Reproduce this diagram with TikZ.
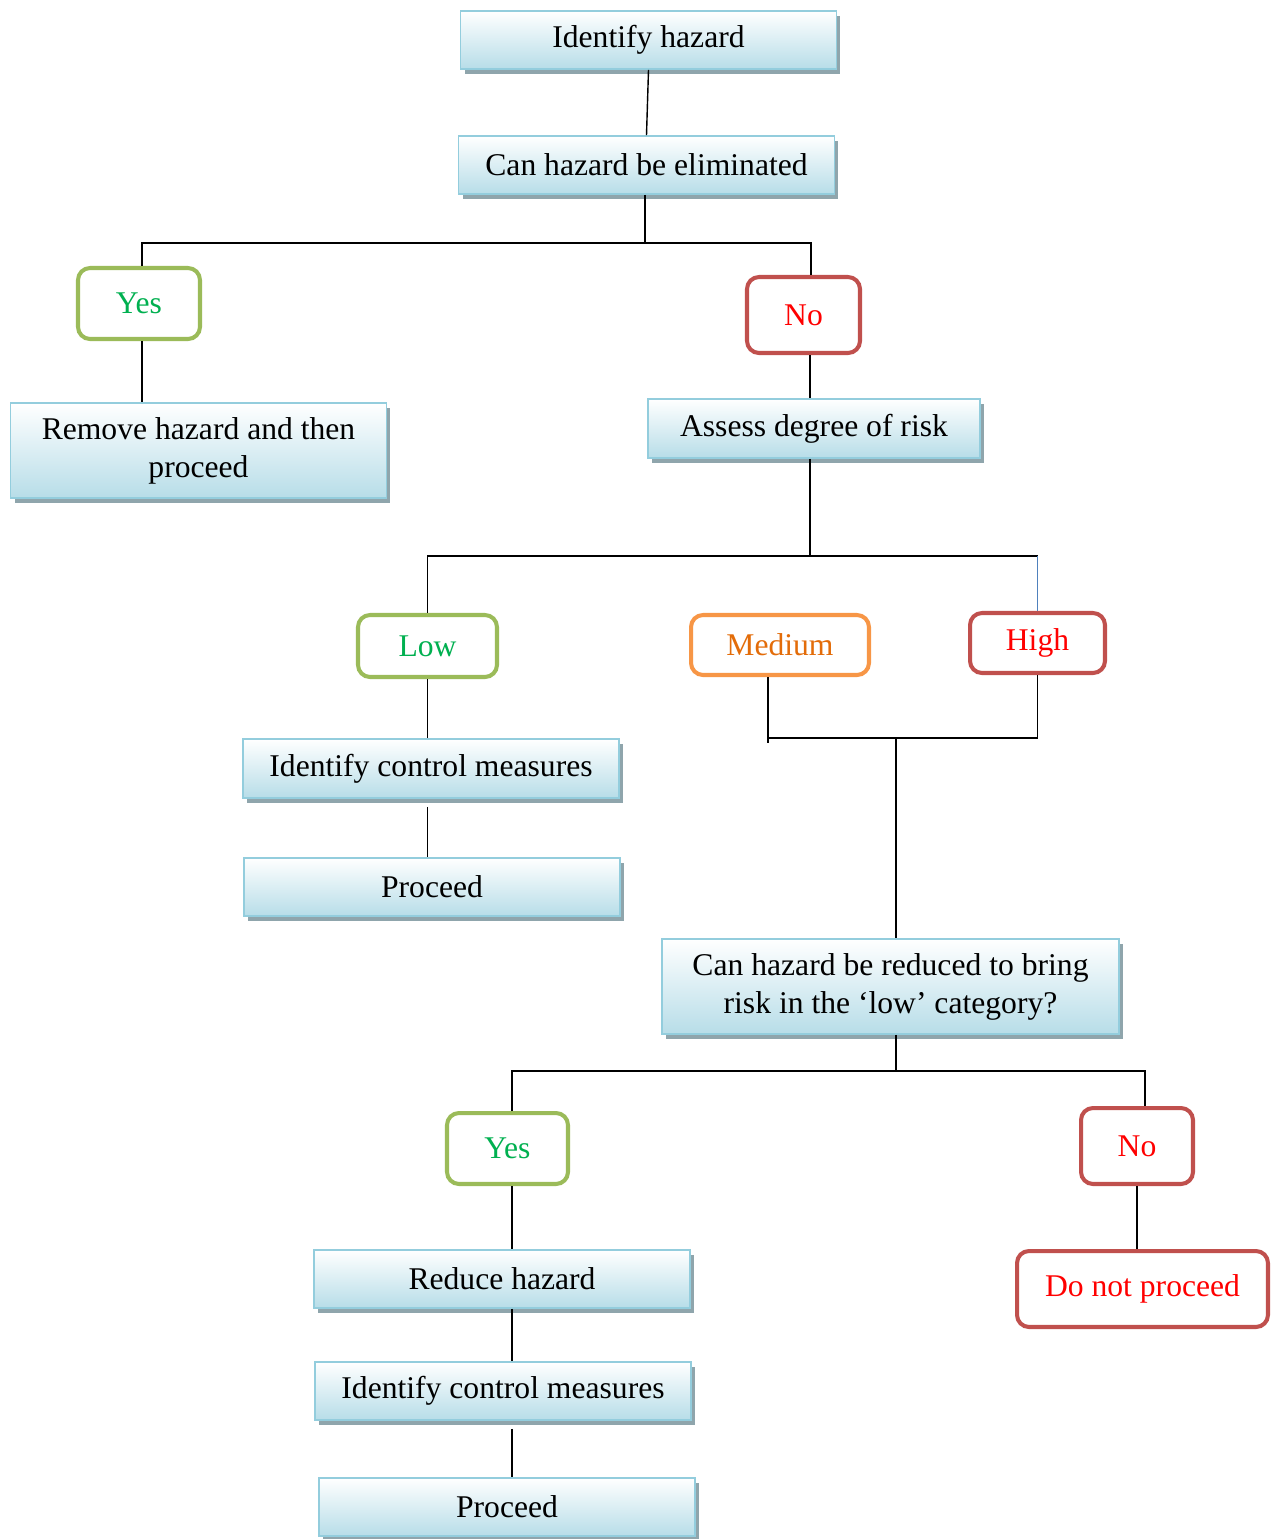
\documentclass[tikz,border=0pt]{standalone}
\usepackage{fontspec}
\setmainfont{Liberation Serif}
\usepackage{tikz}
\usetikzlibrary{shadows, calc}
\definecolor{boxedge}{HTML}{93CDDD}
\definecolor{boxfill}{HTML}{B7DDE8}
\definecolor{boxshade}{HTML}{8FA5AC}
\definecolor{yesedge}{HTML}{9BBB59}
\definecolor{yestext}{HTML}{00B050}
\definecolor{noedge}{HTML}{C0504D}
\definecolor{notext}{HTML}{FF0000}
\definecolor{midedge}{HTML}{F79646}
\definecolor{midtext}{HTML}{E36C09}
\definecolor{highline}{HTML}{4F81BD}
\tikzset{
	stepbox/.style={draw=boxedge, line width=1pt, top color=white, bottom color=boxfill,
		minimum width=7.52cm, minimum height=1.16cm, align=center, inner sep=2pt,
		drop shadow={shadow xshift=0.08cm, shadow yshift=-0.1cm, fill=boxshade, opacity=1}}
}
\tikzset{
	answerbox/.style={draw, fill=white, line width=2.3pt, rounded corners=0.24cm, align=center}
}
\tikzset{
	link/.style={line width=0.8pt, black}
}

\begin{document}
\begin{tikzpicture}[x=0.02cm, y=-0.02cm, font=\fontsize{18}{21.6}\selectfont]
  \useasboundingbox (0,0) rectangle (1276,1539);
  \node[stepbox] (ih) at (648.5,40) {Identify hazard};
  \node[stepbox] (ch) at (646.5,165) {Can hazard be eliminated};
  \node[answerbox, draw=yesedge, text=yestext, minimum width=2.44cm, minimum height=1.42cm] (yes1) at (139,303.5) {Yes};
  \node[stepbox, minimum height=1.9cm] (rm) at (198.5,450.5) {Remove hazard and then\\proceed};
  \node[answerbox, draw=noedge, text=notext, minimum width=2.26cm, minimum height=1.52cm] (no1) at (803.5,315) {No};
  \node[stepbox, minimum width=6.64cm, minimum height=1.18cm] (as) at (814,428.5) {Assess degree of risk};
  \node[answerbox, draw=yesedge, text=yestext, minimum width=2.78cm, minimum height=1.24cm] (low) at (427.5,646) {Low};
  \node[answerbox, draw=midedge, text=midtext, minimum width=3.56cm, minimum height=1.2cm] (med) at (780,645) {Medium};
  \node[answerbox, draw=noedge, text=notext, minimum width=2.7cm, minimum height=1.2cm] (high) at (1037.5,643) {High};
  \node[stepbox, minimum height=1.18cm] (icm1) at (431,768.5) {Identify control measures};
  \node[stepbox] (pr1) at (432,887) {Proceed};
  \node[stepbox, minimum width=9.14cm, minimum height=1.9cm] (red) at (890.5,986.5) {Can hazard be reduced to bring\\risk in the ‘low’ category?};
  \node[answerbox, draw=yesedge, text=yestext, minimum width=2.42cm, minimum height=1.42cm] (yes2) at (507.5,1148.5) {Yes};
  \node[answerbox, draw=noedge, text=notext, minimum width=2.24cm, minimum height=1.52cm] (no2) at (1137,1146) {No};
  \node[stepbox] (rh) at (502,1279) {Reduce hazard};
  \node[stepbox] (icm2) at (503,1391) {Identify control measures};
  \node[stepbox] (pr2) at (507,1507) {Proceed};
  \node[answerbox, draw=noedge, text=notext, minimum width=5.02cm, minimum height=1.52cm] (dnp) at (1142.5,1289) {Do not proceed};
  % branch points
  \coordinate (j1) at (645,243);
  \coordinate (ya) at (142,243);
  \coordinate (nb) at (811,243);
  \coordinate (j2) at (810,556);
  \coordinate (mh) at (896,738);
  \coordinate (j3) at (896,1071);
  \coordinate (ly) at (512,1071);
  \coordinate (rn) at (1145,1071);
  \draw[link] (ih.south) -- (ch.north);
  \draw[link] (ch.south -| j1) -- (j1);
  \draw[link] (yes1.north -| ya) -- (ya) -- (nb) -- (no1.north -| nb);
  \draw[link] (yes1.south -| ya) -- (rm.north -| ya);
  \draw[link] (no1.south -| j2) -- (as.north -| j2);
  \draw[link] (as.south -| j2) -- (j2);
  \draw[link] (low.north) |- (j2) -- (j2 -| high.north);
  \draw[line width=0.8pt, highline] (j2 -| high.north) -- (high.north);
  \draw[link] (low.south) -- (low.south |- icm1.north);
  \draw[link] ([yshift=-0.16cm]icm1.south -| low.south) -- (pr1.north -| low.south);
  \draw[link] ([xshift=-0.24cm]med.south) -- ++(0,66);
  \draw[link] ([xshift=-0.24cm]med.south |- mh) -- (mh) -| (high.south);
  \draw[link] (mh) -- (mh |- red.north);
  \draw[link] (red.south -| j3) -- (j3);
  \draw[link] (yes2.north -| ly) -- (ly) -- (rn) -- (no2.north -| rn);
  \draw[link] (yes2.south -| ly) -- (rh.north -| ly);
  \draw[link] (rh.south -| ly) -- (icm2.north -| ly);
  \draw[link] ([yshift=-0.16cm]icm2.south -| ly) -- (pr2.north -| ly);
  \draw[link] (no2.south) -- (dnp.north -| no2.south);
\end{tikzpicture}
\end{document}
